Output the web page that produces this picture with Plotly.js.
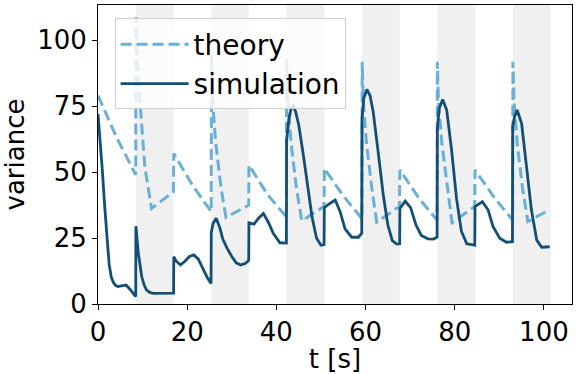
<!DOCTYPE html>
<html>
<head>
<meta charset="utf-8">
<script src="https://cdn.plot.ly/plotly-3.0.1.min.js"></script>
<style>
  html, body { margin: 0; padding: 0; background: #fff; }
  #variance-plot { width: 579px; height: 374px; }
</style>
</head>
<body>
<div id="variance-plot"></div>
<script>
// theory curve (dashed)
const theoryT = [0, 4.2, 8.46, 8.5, 9.0, 10.5, 12.0, 16.9, 17.0, 21.2, 25.38,
  25.45, 25.7, 26.4, 27.6, 28.7, 33.8, 33.85, 38.0, 42.25,
  42.3, 42.6, 43.3, 44.5, 45.7, 50.7, 50.75, 55.0, 59.2,
  59.25, 59.5, 60.2, 61.4, 62.5, 67.6, 67.7, 72.0, 76.05,
  76.1, 76.35, 77.1, 78.3, 79.4, 84.5, 84.55, 89.0, 93.0,
  93.05, 93.3, 94.0, 95.2, 96.4, 101.3];
const theoryY = [79, 63, 49, 108.7, 86, 52, 36.2, 42.5, 57, 45, 35,
  94, 77, 61, 44, 32.8, 37.5, 52.6, 41.5, 33,
  92.7, 77, 61, 44, 31.5, 37, 51.4, 41, 32.3,
  91.8, 77, 61, 44, 31, 37, 50.8, 40, 31.8,
  91.8, 77, 61, 44, 30.8, 37, 50.8, 40, 31.8,
  91.8, 77, 61, 44, 31.2, 35.8];

// simulation curve (solid)
const simT = [0, 0.5, 1.0, 1.5, 2.0, 2.5, 3.0, 3.5, 4.0, 4.5, 5.5, 6.3, 7.2, 8.46,
  8.5, 9.05, 9.8, 10.4, 10.9, 11.6, 12.4, 16.95,
  17.0, 17.5, 18.5, 19.5, 20.5, 21.5, 22.5, 23.5, 24.5, 25.35,
  25.4, 25.8, 26.5, 27.3, 28.0, 29.0, 30.0, 31.0, 32.0, 33.0, 33.8,
  33.85, 35.0, 36.0, 37.1, 38.2, 39.3, 40.8, 42.25,
  42.3, 42.8, 43.3, 43.8, 44.3, 45.0, 46.0, 47.0, 48.0, 49.0, 50.0, 50.7,
  50.75, 52.0, 53.2, 54.3, 55.4, 56.9, 58.4, 59.15,
  59.2, 59.6, 60.3, 61.0, 61.7, 62.8, 64.0, 65.0, 66.0, 67.0, 67.65,
  67.7, 68.9, 70.1, 71.3, 72.5, 74.0, 75.2, 76.05,
  76.1, 76.5, 77.3, 78.2, 79.3, 80.4, 81.5, 82.7, 84.5,
  84.55, 86.2, 87.5, 88.6, 90.1, 91.6, 92.95,
  93.0, 93.4, 94.0, 95.0, 96.1, 97.2, 98.4, 99.5, 101.3];
const simY = [72, 62, 50, 37, 25, 15, 10, 8, 7, 6.6, 7.0, 7.2, 5.5, 2.8,
  29.5, 19.2, 10.4, 7.0, 5.3, 4.4, 4.0, 4.1,
  17.9, 16.3, 14.8, 16.2, 18.0, 18.6, 17, 13.5, 10, 7.8,
  27, 30.5, 32.5, 29, 24.5, 21, 18, 15.6, 14.8, 15.3, 16.5,
  30.8, 30.3, 32.5, 34.3, 31, 26.8, 23.2, 23.1,
  62, 70, 74, 75, 73, 68, 57, 45, 33, 25, 22.3, 22.5,
  36.5, 38.1, 39.4, 35, 28.5, 25.3, 25.3, 26.8,
  70, 78, 81.3, 79, 73, 58, 41, 30, 24, 22.7, 22.8,
  36.2, 39, 36.5, 30, 26, 24.7, 24.6, 25.3,
  66, 74, 77.5, 73.5, 58.3, 40, 27.5, 22.8, 22.3,
  36.9, 38.8, 35.6, 29.3, 24.9, 23.4, 23.6,
  67.2, 71, 73.5, 68.4, 52, 35.6, 24.2, 21.5, 21.7];

// shaded intervals
const bandStart = [8.46, 25.38, 42.3, 59.22, 76.14, 93.06];
const bandEnd = [16.92, 33.84, 50.76, 67.68, 84.6, 101.5];

const xTicks = [0, 20, 40, 60, 80, 100];
const yTicks = [0, 25, 50, 75, 100];

function drawVariancePlot() {
  const font = 'DejaVu Sans, sans-serif';

  let theory = {
    x: theoryT, y: theoryY, name: 'theory', mode: 'lines', type: 'scatter',
    line: { color: '#6aafd6', width: 3, dash: '11px,5px' },
  };
  let simulation = {
    x: simT, y: simY, name: 'simulation', mode: 'lines', type: 'scatter',
    line: { color: '#134f74', width: 2.8 },
  };

  let shapes = bandStart.map((s, i) => ({
    type: 'rect', xref: 'x', yref: 'paper', x0: s, x1: bandEnd[i], y0: 0, y1: 1,
    fillcolor: '#f0f0f0', line: { width: 0 }, layer: 'below',
  }));

  let layout = {
    width: 579, height: 374,
    margin: { l: 98, r: 7, t: 5, b: 70 },
    paper_bgcolor: '#fff', plot_bgcolor: '#fff',
    font: { family: font, size: 26, color: '#000' },
    showlegend: true,
    legend: {
      x: 0.035, y: 0.955, xanchor: 'left', yanchor: 'top',
      bgcolor: 'rgba(255,255,255,0.8)', bordercolor: '#d0d0d0', borderwidth: 1,
      font: { family: font, size: 28, color: '#000' },
      itemwidth: 68,
    },
    shapes: shapes,
    xaxis: {
      range: [0, 106.3], tickvals: xTicks, ticktext: xTicks.map(String),
      showgrid: false, zeroline: false, showline: true, mirror: true,
      linecolor: '#000', linewidth: 1, ticks: 'outside', ticklen: 5, tickcolor: '#000',
      tickfont: { size: 26 },
      title: { text: 't [s]', font: { size: 26 }, standoff: 4 },
    },
    yaxis: {
      range: [0, 113.3], tickvals: yTicks, ticktext: yTicks.map(String),
      showgrid: false, zeroline: false, showline: true, mirror: true,
      linecolor: '#000', linewidth: 1, ticks: 'outside', ticklen: 5, tickcolor: '#000',
      tickfont: { size: 26 },
      title: { text: 'variance', font: { size: 26 }, standoff: 8 },
    },
  };

  Plotly.newPlot('variance-plot', [theory, simulation], layout, { staticPlot: true });
}

window.addEventListener('DOMContentLoaded', drawVariancePlot, false);
</script>
</body>
</html>
